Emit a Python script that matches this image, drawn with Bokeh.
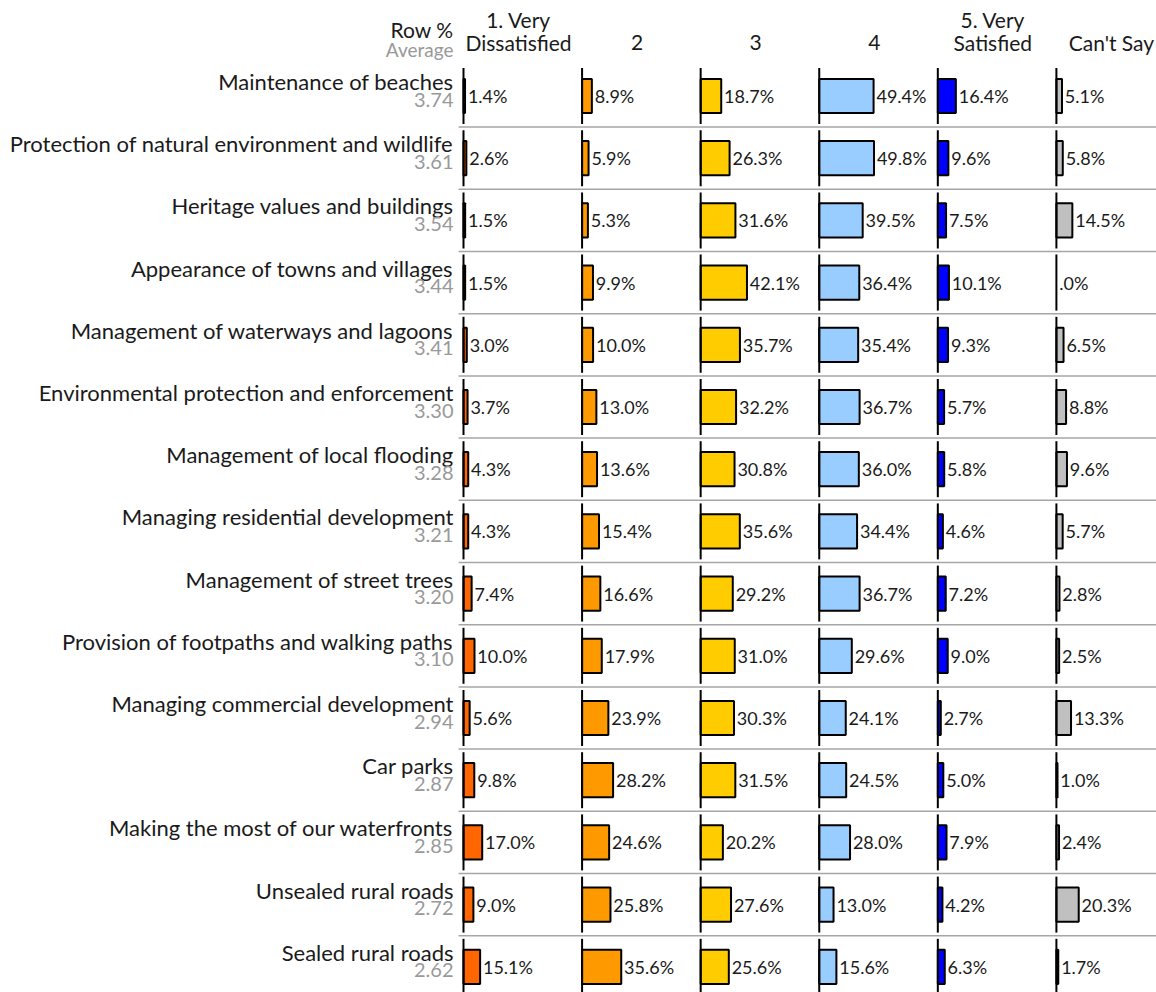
from bokeh.plotting import figure
from bokeh.models import Range1d, ColumnDataSource
from bokeh.embed import file_html
from bokeh.resources import INLINE
from bokeh.core.properties import value

# ---------------- data ----------------
items = [
    "Maintenance of beaches",
    "Protection of natural environment and wildlife",
    "Heritage values and buildings",
    "Appearance of towns and villages",
    "Management of waterways and lagoons",
    "Environmental protection and enforcement",
    "Management of local flooding",
    "Managing residential development",
    "Management of street trees",
    "Provision of footpaths and walking paths",
    "Managing commercial development",
    "Car parks",
    "Making the most of our waterfronts",
    "Unsealed rural roads",
    "Sealed rural roads",
]
averages = ["3.74", "3.61", "3.54", "3.44", "3.41", "3.30", "3.28", "3.21",
            "3.20", "3.10", "2.94", "2.87", "2.85", "2.72", "2.62"]

columns = ["1. Very\nDissatisfied", "2", "3", "4", "5. Very\nSatisfied", "Can't Say"]
col_colors = ["#FF6600", "#FF9900", "#FFCC00", "#99CCFF", "#0000FF", "#C0C0C0"]

very_dissatisfied = [1.4, 2.6, 1.5, 1.5, 3.0, 3.7, 4.3, 4.3, 7.4, 10.0, 5.6, 9.8, 17.0, 9.0, 15.1]
rating_2 = [8.9, 5.9, 5.3, 9.9, 10.0, 13.0, 13.6, 15.4, 16.6, 17.9, 23.9, 28.2, 24.6, 25.8, 35.6]
rating_3 = [18.7, 26.3, 31.6, 42.1, 35.7, 32.2, 30.8, 35.6, 29.2, 31.0, 30.3, 31.5, 20.2, 27.6, 25.6]
rating_4 = [49.4, 49.8, 39.5, 36.4, 35.4, 36.7, 36.0, 34.4, 36.7, 29.6, 24.1, 24.5, 28.0, 13.0, 15.6]
very_satisfied = [16.4, 9.6, 7.5, 10.1, 9.3, 5.7, 5.8, 4.6, 7.2, 9.0, 2.7, 5.0, 7.9, 4.2, 6.3]
cant_say = [5.1, 5.8, 14.5, 0.0, 6.5, 8.8, 9.6, 5.7, 2.8, 2.5, 13.3, 1.0, 2.4, 20.3, 1.7]

series = [very_dissatisfied, rating_2, rating_3, rating_4, very_satisfied, cant_say]

# ---------------- layout constants ----------------
W, H = 1156, 992
PX_PER_UNIT = 1.1          # pixels per percentage point
PANEL_STEP = 107.8         # panel spacing in percentage units
X0_PX = 463                # pixel of first panel axis
ROW0_PX = 95.5             # pixel centre of first row
ROW_PX = 62.2              # row height in px
SHIFT = 8                  # baseline correction in px

x_start = -X0_PX / PX_PER_UNIT
x_end = (W - X0_PX) / PX_PER_UNIT
y_top = -ROW0_PX / ROW_PX
y_bot = (H - ROW0_PX) / ROW_PX


def ypx(px):
    return (px - SHIFT - ROW0_PX) / ROW_PX


FONT = "Lato"
TEXT = "#1a1a1a"
GREY = "#999999"
n = len(items)

p = figure(width=W, height=H, output_backend="svg", toolbar_location=None,
           x_range=Range1d(x_start, x_end), y_range=Range1d(y_bot, y_top),
           min_border=0, outline_line_color=None)
p.xaxis.visible = False
p.yaxis.visible = False
p.xgrid.visible = False
p.ygrid.visible = False
p.background_fill_color = "white"
p.border_fill_color = "white"

# row separators
sep_y = [i + 0.5 for i in range(n - 1)]
p.segment(x0=[-4.5] * len(sep_y), x1=[x_end] * len(sep_y), y0=sep_y, y1=sep_y,
          line_color="#A6A6A6", line_width=1.5)

# bars
bx, by, bw, bc, lx, lt = [], [], [], [], [], []
for k, vals in enumerate(series):
    off = k * PANEL_STEP
    for i, v in enumerate(vals):
        bx.append(off + v / 2)
        by.append(i)
        bw.append(v)
        bc.append(col_colors[k])
        lx.append(off + v + 2.6)
        lt.append(f"{v:.1f}%" if v > 0 else ".0%")

src = ColumnDataSource(dict(x=bx, y=by, w=bw, c=bc))
p.rect(x="x", y="y", width="w", height=0.55, fill_color="c", line_color="black",
       line_width=2, source=src)

# panel axis lines (per row)
ax_x, ax_y0, ax_y1 = [], [], []
for k in range(len(series)):
    for i in range(n):
        ax_x.append(k * PANEL_STEP)
        ax_y0.append(i - 0.45)
        ax_y1.append(i + 0.45)
p.segment(x0=ax_x, x1=ax_x, y0=ax_y0, y1=ax_y1, line_color="black", line_width=2)

# value labels
p.text(x=lx, y=by, text=lt, text_font=value(FONT), text_font_size="18px",
       text_baseline="middle", text_align="left", text_color=TEXT)

# row labels
lab_x = -10 / PX_PER_UNIT
p.text(x=[lab_x] * n, y=[i + ypx(89) - ypx(ROW0_PX + SHIFT) for i in range(n)], text=items,
       text_font=value(FONT), text_font_size="22px", text_align="right",
       text_baseline="alphabetic", text_color=TEXT)
p.text(x=[lab_x] * n, y=[i + ypx(107) - ypx(ROW0_PX + SHIFT) for i in range(n)], text=averages,
       text_font=value(FONT), text_font_size="20px", text_align="right",
       text_baseline="alphabetic", text_color=GREY)

# header
p.text(x=[lab_x], y=[ypx(37)], text=["Row %"],
       text_font=value(FONT), text_font_size="21px", text_align="right",
       text_baseline="alphabetic", text_color=TEXT)
p.text(x=[lab_x], y=[ypx(57)], text=["Average"],
       text_font=value(FONT), text_font_size="19px", text_align="right",
       text_baseline="alphabetic", text_color=GREY)

hx, hy, ht = [], [], []
for k, c in enumerate(columns):
    lines = c.split("\n")
    cx = k * PANEL_STEP + 50
    for j, line in enumerate(reversed(lines)):
        hx.append(cx)
        hy.append(ypx(50 - 23 * j))
        ht.append(line)
p.text(x=hx, y=hy, text=ht, text_font=value(FONT), text_font_size="21px",
       text_align="center", text_baseline="alphabetic", text_color=TEXT)

open("out.html", "w").write(file_html(p, INLINE))
